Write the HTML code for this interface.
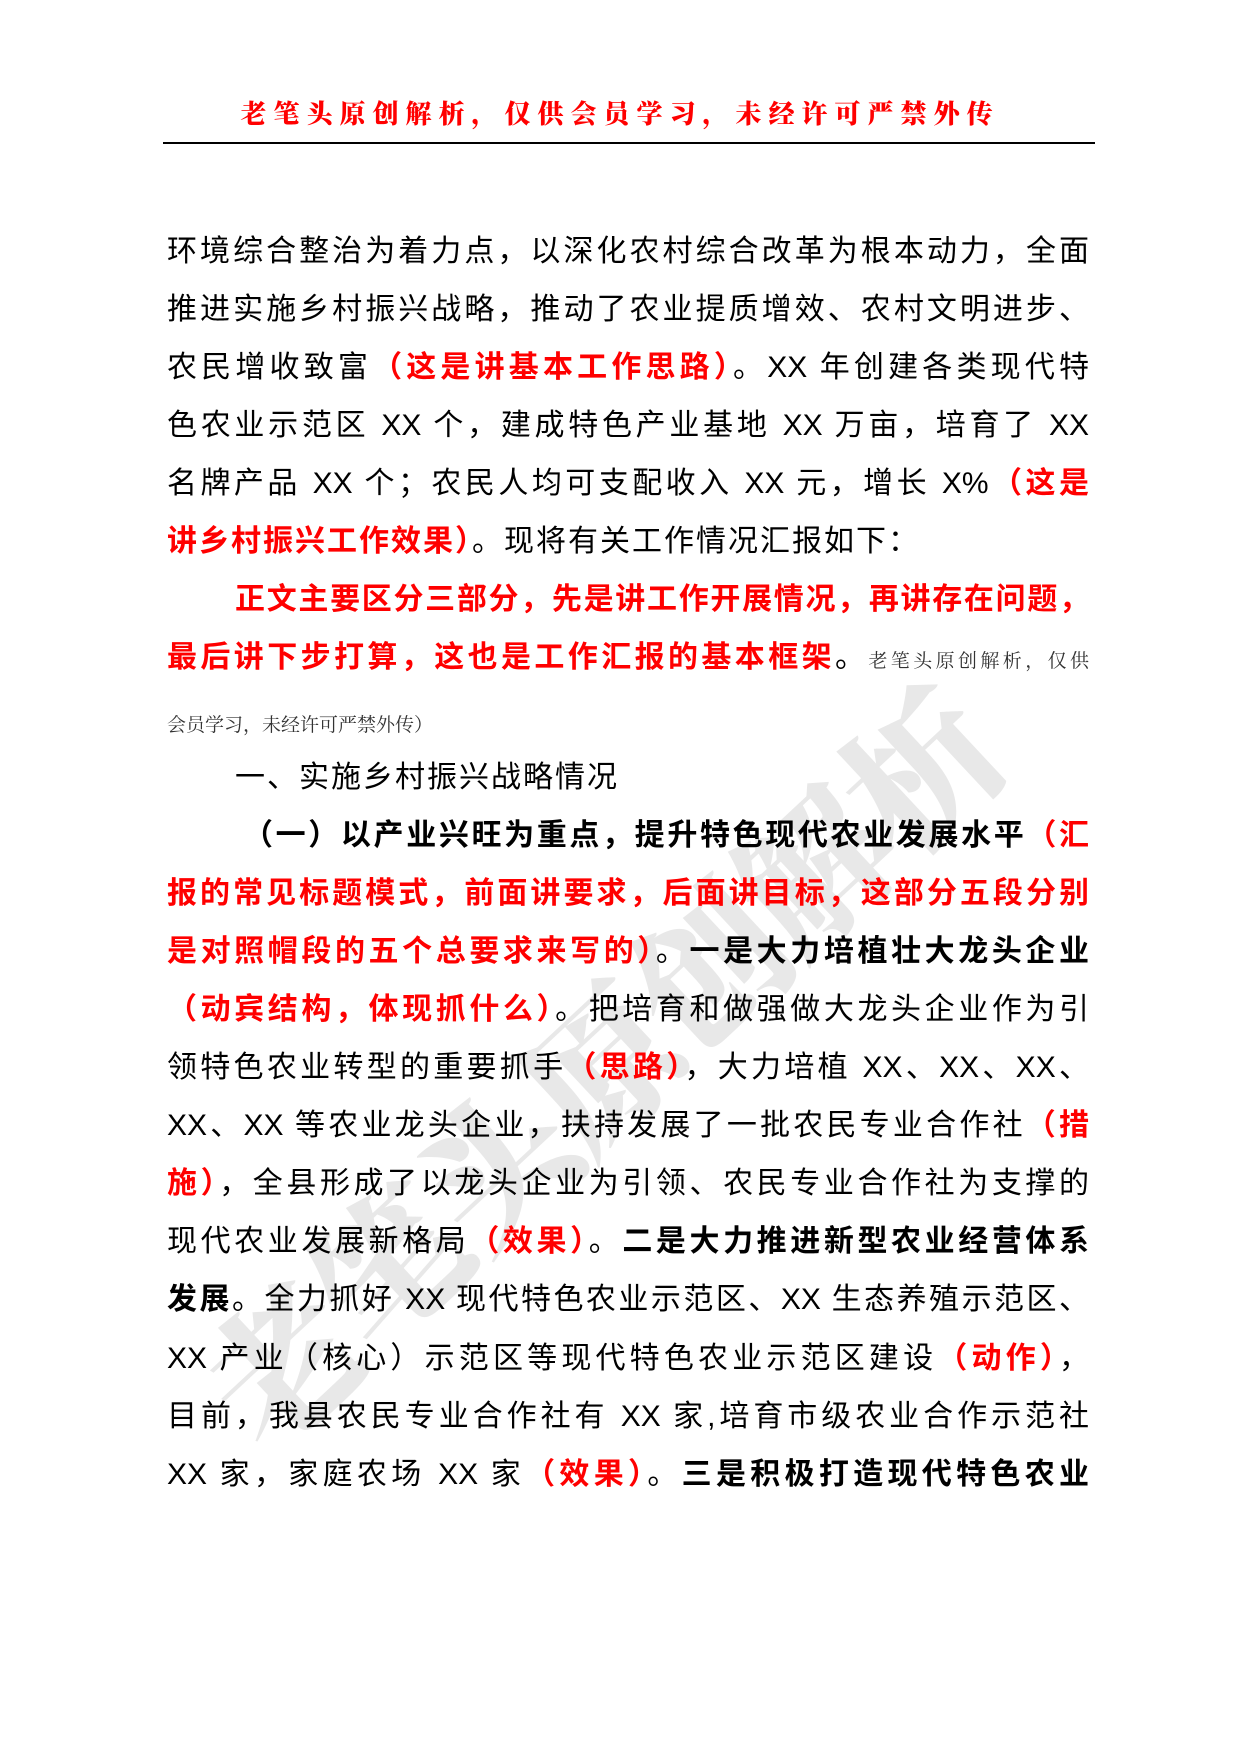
<!DOCTYPE html>
<html><head><meta charset="utf-8"><style>
body{margin:0;background:#fff;}
#p{position:relative;width:1240px;height:1754px;overflow:hidden;background:#fff;font-family:"Liberation Sans","Noto Sans CJK SC",sans-serif;color:#000;}
.h{position:absolute;top:94px;left:0;width:1240px;text-align:center;color:#f00;font-family:"Noto Serif CJK SC","Liberation Serif",serif;font-weight:900;font-size:26px;letter-spacing:7px;}
.rule{position:absolute;top:142px;left:163px;width:932px;height:2px;background:#000;}
.l{position:absolute;left:167px;width:922px;font-size:30px;line-height:40px;text-align:justify;text-align-last:justify;white-space:nowrap;}
.l.n{text-align-last:left;}
.r{color:#f00;font-weight:bold;}
.b{font-weight:bold;}
.s{font-size:19px;color:#333;font-family:"Noto Serif CJK SC",serif;}
.wm{position:absolute;font-size:150px;font-weight:900;color:rgba(190,190,190,0.35);transform:rotate(-43deg);transform-origin:left top;white-space:nowrap;font-family:"Noto Serif CJK SC",serif;letter-spacing:-5px;}
</style></head><body><div id="p">
<div class="wm" style="left:150px;top:1330px;">老笔头原创解析</div>
<div class="h">老笔头原创解析，仅供会员学习，未经许可严禁外传</div>
<div class="rule"></div>
<div class="l" style="top:232px">环境综合整治为着力点，以深化农村综合改革为根本动力，全面</div>
<div class="l" style="top:290px">推进实施乡村振兴战略，推动了农业提质增效、农村文明进步、</div>
<div class="l" style="top:348px">农民增收致富<span class="r">（这是讲基本工作思路）</span>。XX 年创建各类现代特</div>
<div class="l" style="top:406px">色农业示范区 XX 个，建成特色产业基地 XX 万亩，培育了 XX</div>
<div class="l" style="top:464px">名牌产品 XX 个；农民人均可支配收入 XX 元，增长 X%<span class="r">（这是</span></div>
<div class="l n" style="top:522px;letter-spacing:2px"><span class="r">讲乡村振兴工作效果）</span>。现将有关工作情况汇报如下：</div>
<div class="l" style="top:580px;left:235px;width:854px"><span class="r">正文主要区分三部分，先是讲工作开展情况，再讲存在问题，</span></div>
<div class="l" style="top:638px"><span class="r">最后讲下步打算，这也是工作汇报的基本框架</span>。<span class="s">老笔头原创解析，仅供</span></div>
<div class="l n" style="top:702px"><span class="s">会员学习，未经许可严禁外传）</span></div>
<div class="l n" style="top:758px;left:235px;letter-spacing:2px">一、实施乡村振兴战略情况</div>
<div class="l" style="top:816px;left:243px;width:846px"><span class="b">（一）以产业兴旺为重点，提升特色现代农业发展水平</span><span class="r">（汇</span></div>
<div class="l" style="top:874px"><span class="r">报的常见标题模式，前面讲要求，后面讲目标，这部分五段分别</span></div>
<div class="l" style="top:932px"><span class="r">是对照帽段的五个总要求来写的）</span>。<span class="b">一是大力培植壮大龙头企业</span></div>
<div class="l" style="top:990px"><span class="r">（动宾结构，体现抓什么）</span>。把培育和做强做大龙头企业作为引</div>
<div class="l" style="top:1048px">领特色农业转型的重要抓手<span class="r">（思路）</span>，大力培植 XX、XX、XX、</div>
<div class="l" style="top:1106px">XX、XX 等农业龙头企业，扶持发展了一批农民专业合作社<span class="r">（措</span></div>
<div class="l" style="top:1164px"><span class="r">施）</span>，全县形成了以龙头企业为引领、农民专业合作社为支撑的</div>
<div class="l" style="top:1222px">现代农业发展新格局<span class="r">（效果）</span>。<span class="b">二是大力推进新型农业经营体系</span></div>
<div class="l" style="top:1280px"><span class="b">发展</span>。全力抓好 XX 现代特色农业示范区、XX 生态养殖示范区、</div>
<div class="l" style="top:1339px">XX 产业（核心）示范区等现代特色农业示范区建设<span class="r">（动作）</span>，</div>
<div class="l" style="top:1397px">目前，我县农民专业合作社有 XX 家,培育市级农业合作示范社</div>
<div class="l" style="top:1455px">XX 家，家庭农场 XX 家<span class="r">（效果）</span>。<span class="b">三是积极打造现代特色农业</span></div>
</div></body></html>
